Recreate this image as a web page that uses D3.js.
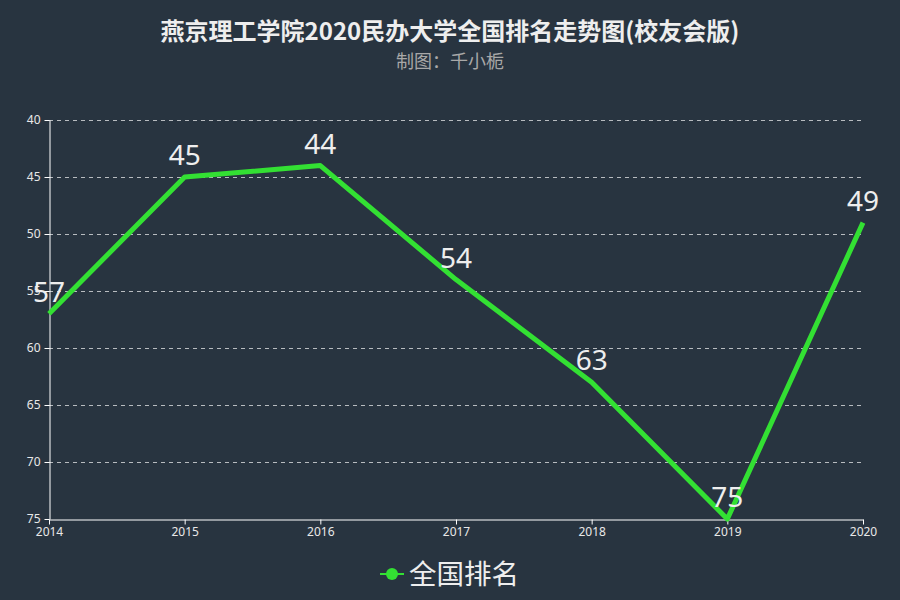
<!DOCTYPE html>
<html lang="zh">
<head>
  <meta charset="UTF-8">
  <title>燕京理工学院2020民办大学全国排名走势图</title>
  <script src="https://d3js.org/d3.v7.min.js"></script>
  <style>
    body { margin: 0; background: #283440; }
    text { font-family: "Noto Sans CJK SC", "Noto Sans", sans-serif; }
    .axis text { font-family: "Noto Sans", "Open Sans", sans-serif; font-size: 12px; fill: #e8e8e8; }
    .axis path, .axis line { stroke: #ffffff; }
    .num { font-family: "Noto Sans", "Open Sans", sans-serif; }
  </style>
</head>
<body>
  <svg id="chart" width="900" height="600"></svg>
  <script>
    const years = ['2014', '2015', '2016', '2017', '2018', '2019', '2020'];
    const ranks = [57, 45, 44, 54, 63, 75, 49];
    const yTicks = [40, 45, 50, 55, 60, 65, 70, 75];
    const seriesName = '全国排名';

    const width = 900;
    const height = 600;
    const margin = { left: 49, right: 37, top: 120, bottom: 81 };
    const lineColor = '#33e033';

    const svg = d3.select('#chart');
    svg.append('rect').attr('width', width).attr('height', height).attr('fill', '#283440');

    const x = d3.scalePoint()
      .domain(years)
      .range([margin.left, width - margin.right]);

    const y = d3.scaleLinear()
      .domain([40, 75])
      .range([margin.top, height - margin.bottom]);

    // grid lines
    svg.append('g')
      .selectAll('line')
      .data(yTicks.slice(0, -1))
      .enter().append('line')
      .attr('x1', margin.left)
      .attr('x2', width - margin.right - 2)
      .attr('y1', d => y(d) + 0.5)
      .attr('y2', d => y(d) + 0.5)
      .attr('stroke', '#b8bcc0')
      .attr('stroke-dasharray', '4,4');

    // y axis
    svg.append('g')
      .attr('class', 'axis')
      .attr('transform', `translate(${margin.left + 0.5},0)`)
      .call(d3.axisLeft(y).tickValues(yTicks).tickSize(5).tickSizeOuter(0))
      .selectAll('text').attr('dx', '-1').attr('dy', '0.25em');

    // x axis
    svg.append('g')
      .attr('class', 'axis')
      .attr('transform', `translate(0,${height - margin.bottom + 0.5})`)
      .call(d3.axisBottom(x).tickSize(5).tickSizeOuter(0))
      .selectAll('text').attr('dy', '0.68em');

    const pts = years.map((yr, i) => ({ year: yr, v: ranks[i] }));

    const line = d3.line()
      .x(d => x(d.year))
      .y(d => y(d.v));

    svg.append('path')
      .datum(pts)
      .attr('d', line)
      .attr('fill', 'none')
      .attr('stroke', lineColor)
      .attr('stroke-width', 5)
      .attr('stroke-linejoin', 'round');

    svg.append('g')
      .selectAll('text')
      .data(pts)
      .enter().append('text')
      .attr('class', 'num')
      .attr('x', d => x(d.year))
      .attr('y', d => y(d.v) - 12)
      .attr('text-anchor', 'middle')
      .attr('font-size', 28)
      .attr('fill', '#eeeeee')
      .text(d => d.v);

    // title
    svg.append('text')
      .attr('x', width / 2)
      .attr('y', 40)
      .attr('text-anchor', 'middle')
      .attr('font-size', 24)
      .attr('font-weight', 'bold')
      .attr('fill', '#eeeeee')
      .text('燕京理工学院2020民办大学全国排名走势图(校友会版)');

    svg.append('text')
      .attr('x', width / 2)
      .attr('y', 68)
      .attr('text-anchor', 'middle')
      .attr('font-size', 18)
      .attr('fill', '#a8a8a8')
      .text('制图：千小栀');

    // legend
    const lg = svg.append('g').attr('transform', 'translate(380,574)');
    lg.append('line')
      .attr('x1', 0).attr('x2', 24)
      .attr('stroke', lineColor).attr('stroke-width', 2);
    lg.append('circle')
      .attr('cx', 12).attr('r', 6)
      .attr('fill', lineColor);
    lg.append('text')
      .attr('x', 29)
      .attr('dy', '0.36em')
      .attr('font-size', 27.5)
      .attr('fill', '#eeeeee')
      .text(seriesName);
  </script>
</body>
</html>
